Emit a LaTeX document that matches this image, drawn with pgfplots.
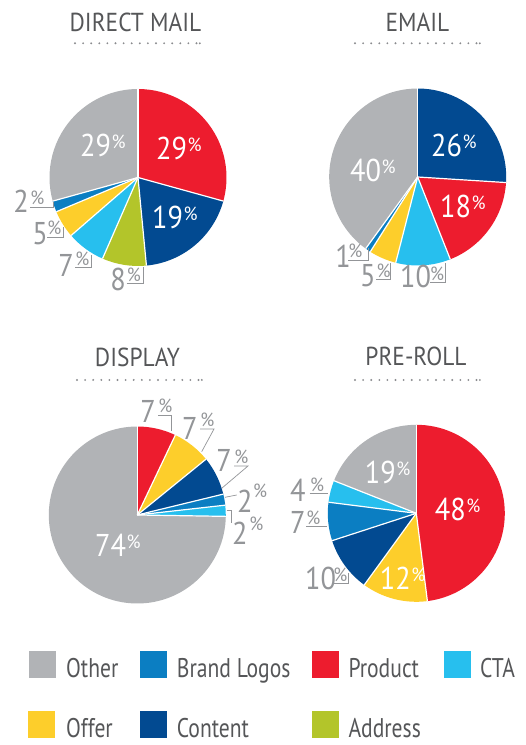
\documentclass[border=0pt]{standalone}
\usepackage{fontspec}
\setmainfont{PT Sans}[FakeStretch=0.8]
\newfontfamily\numfam{PT Sans}[FakeStretch=0.9]
\newfontfamily\pctfam{PT Sans}[FakeStretch=0.95]
\newfontfamily\titfam{PT Sans}[FakeStretch=0.9]
\usepackage{pgfplots}
\usepackage{pgfplotstable}
\pgfplotsset{compat=1.18}

\definecolor{cOther}{HTML}{B1B3B6}
\definecolor{cLogos}{HTML}{0B7EC2}
\definecolor{cProduct}{HTML}{ED1C2E}
\definecolor{cCTA}{HTML}{27BFEE}
\definecolor{cOffer}{HTML}{FDCE2B}
\definecolor{cContent}{HTML}{024A91}
\definecolor{cAddress}{HTML}{B3C52A}
\definecolor{lblgray}{HTML}{939598}
\definecolor{txtgray}{HTML}{555658}
\definecolor{dotgray}{HTML}{8A8B8E}

\pgfplotstableread{
cat val
Product 29
Content 19
Address 8
CTA 7
Offer 5
Logos 2
Other 29
}\dmdata
\pgfplotstableread{
cat val
Content 26
Product 18
CTA 10
Offer 5
Logos 1
Other 40
}\emdata
\pgfplotstableread{
cat val
Product 7
Offer 7
Content 7
Logos 2
CTA 2
Other 74
}\didata
\pgfplotstableread{
cat val
Product 48
Offer 12
Content 10
Logos 7
CTA 4
Other 19
}\prdata

\def\pierad{88.5pt}
\newcommand\drawpie[1]{%
  \pgfplotstablegetrowsof{#1}%
  \pgfmathtruncatemacro\nlast{\pgfplotsretval-1}%
  \def\tot{0}%
  \pgfplotsforeachungrouped \i in {0,...,\nlast}{%
    \pgfplotstablegetelem{\i}{val}\of{#1}%
    \pgfmathsetmacro\tot{\tot+\pgfplotsretval}%
  }%
  \def\acc{90}%
  \pgfplotsforeachungrouped \i in {0,...,\nlast}{%
    \pgfplotstablegetelem{\i}{val}\of{#1}%
    \pgfmathsetmacro\aend{\acc-\pgfplotsretval/\tot*360}%
    \pgfplotstablegetelem{\i}{cat}\of{#1}%
    \edef\col{c\pgfplotsretval}%
    \fill[\col] (axis cs:0,0) -- (axis cs:{cos(\acc)},{sin(\acc)}) arc[start angle=\acc, end angle=\aend, radius=\pierad] -- cycle;
    \let\acc\aend
  }%
  \def\acc{90}%
  \pgfplotsforeachungrouped \i in {0,...,\nlast}{%
    \draw[white, line width=1.2pt] (axis cs:0,0) -- (axis cs:{cos(\acc)},{sin(\acc)});
    \pgfplotstablegetelem{\i}{val}\of{#1}%
    \pgfmathsetmacro\aend{\acc-\pgfplotsretval/\tot*360}%
    \let\acc\aend
  }%
}

\pgfplotsset{pieaxis/.style={anchor=center, width=177pt, height=177pt, scale only axis,
  xmin=-1, xmax=1, ymin=-1, ymax=1, hide axis, clip=false}}

\newcommand\bignum{\numfam\fontsize{31.5}{30}\selectfont}
\newcommand\pcfont{\pctfam\fontsize{19}{19}\selectfont}
\newcommand\titlefont{\titfam\fontsize{26}{26}\selectfont}
\newcommand\legfont{\fontsize{27}{27}\selectfont}

% inside (white) label: x, baseline, number
\newcommand\inlbl[3]{\node[anchor=base west, inner sep=0pt, text=white] at (#1pt,#2pt) {\bignum #3\kern0.5pt\raisebox{8pt}{\pcfont\%}};}
% outside label: digit x, baseline, number, pct x, underline y
\newcommand\outlbl[5]{%
  \node[anchor=base west, inner sep=0pt, text=lblgray] at (#1pt,#2pt) {\bignum #3};
  \node[anchor=base west, inner sep=0pt, text=lblgray] at (#4pt,#5pt-2pt) {\pcfont\%};}
\newcommand\dotrow[2]{% x0, y
  \foreach \k in {0,...,15}{\fill[dotgray] (#1pt+\k*8.1pt,#2pt) circle (1.05pt);}
  \fill[dotgray] (#1pt+124.8pt,#2pt) circle (1.05pt);}

\begin{document}
\begin{tikzpicture}
\useasboundingbox (0,0) rectangle (526pt,745pt);

\begin{axis}[pieaxis, at={(138pt,567.5pt)}]
\pgfplotsextra{\drawpie{\dmdata}}
\end{axis}
\begin{axis}[pieaxis, at={(417.7pt,568pt)}]
\pgfplotsextra{\drawpie{\emdata}}
\end{axis}
\begin{axis}[pieaxis, at={(137.3pt,230pt)}]
\pgfplotsextra{\drawpie{\didata}}
\end{axis}
\begin{axis}[pieaxis, at={(416.3pt,231.7pt)}]
\pgfplotsextra{\drawpie{\prdata}}
\end{axis}

\begin{scope}[yshift=745pt, yscale=-1]
% titles
\node[anchor=base, inner sep=0pt, text=txtgray] at (135.5pt,32pt) {\titlefont DIRECT MAIL};
\node[anchor=base, inner sep=0pt, text=txtgray] at (417.5pt,32pt) {\titlefont EMAIL};
\node[anchor=base, inner sep=0pt, text=txtgray] at (137.5pt,367pt) {\titlefont DISPLAY};
\node[anchor=base, inner sep=0pt, text=txtgray] at (416pt,366pt) {\titlefont PRE-ROLL};
\dotrow{75}{43.3}
\dotrow{355}{43.3}
\dotrow{77}{380}
\dotrow{355}{380}

% inside labels
\inlbl{80}{157}{29}
\inlbl{156}{160}{29}
\inlbl{152}{229}{19}
\inlbl{431}{157}{26}
\inlbl{440}{218}{18}
\inlbl{350}{182}{40}
\inlbl{95}{556.7}{74}
\inlbl{364.7}{483.3}{19}
\inlbl{434.7}{520.7}{48}
\inlbl{379.7}{589.3}{12}

% outside labels
\begin{scope}[lblgray, line width=0.7pt]
% direct mail
\outlbl{13}{213}{2}{30}{207}
\draw (30pt,207pt) -- (53pt,207pt) -- (53pt,202pt);
\outlbl{32}{245}{5}{47}{237}
\draw (47pt,237pt) -- (63.3pt,237pt) -- (63.3pt,227pt);
\outlbl{58}{277}{7}{75}{267.3}
\draw (75pt,267.3pt) -- (91.7pt,267.3pt) -- (91.7pt,255pt);
\outlbl{110}{291}{8}{126.5}{283.3}
\draw (126.5pt,283.3pt) -- (143.3pt,283.3pt) -- (143.3pt,267.3pt);
% email
\outlbl{335}{268}{1}{348}{260}
\draw (348pt,260pt) -- (368pt,260pt) -- (368pt,248pt);
\outlbl{359.7}{287}{5}{376.3}{279.3}
\draw (376.3pt,279.3pt) -- (390.7pt,279.3pt) -- (390.7pt,263pt);
\outlbl{399.7}{288}{10}{429.7}{282.7}
\draw (429.7pt,282.7pt) -- (445.7pt,282.7pt) -- (445.7pt,263.3pt);
% display
\outlbl{140}{422.7}{7}{158}{415}
\draw (158pt,415pt) -- (171pt,415pt) -- (171pt,431pt);
\outlbl{181.7}{440}{7}{200}{429}
\draw (200pt,429pt) -- (214pt,429pt) -- (201.7pt,451.7pt);
\outlbl{216}{471.7}{7}{234}{466}
\draw (234pt,466pt) -- (248pt,466pt) -- (221.7pt,488.3pt);
\outlbl{236.7}{513}{2}{252.7}{500}
\draw (225pt,497.3pt) -- (236.7pt,495pt);
\outlbl{231.7}{545}{2}{249}{533}
\draw (226.7pt,510.7pt) -- (231.7pt,510.7pt) -- (231.7pt,523.3pt);
% pre-roll
\outlbl{289.7}{501.7}{4}{309.7}{493.3}
\draw (309.7pt,493.3pt) -- (328pt,493.3pt);
\outlbl{289.7}{533.3}{7}{306}{526.7}
\draw (306pt,526.7pt) -- (327pt,526.7pt);
\outlbl{304.7}{590}{10}{333}{583.3}
\draw (333pt,583.3pt) -- (348pt,583.3pt) -- (348pt,572.7pt);
\end{scope}

% legend
\fill[cOther] (29pt,651pt) rectangle (56pt,678pt);
\node[anchor=base west, inner sep=0pt, text=txtgray] at (66pt,678pt) {\legfont Other};
\fill[cLogos] (140pt,651pt) rectangle (166.7pt,678pt);
\node[anchor=base west, inner sep=0pt, text=txtgray] at (176.7pt,678pt) {\legfont Brand Logos};
\fill[cProduct] (311.7pt,651pt) rectangle (338.7pt,678pt);
\node[anchor=base west, inner sep=0pt, text=txtgray] at (348.3pt,678pt) {\legfont Product};
\fill[cCTA] (444.3pt,651pt) rectangle (471pt,678pt);
\node[anchor=base west, inner sep=0pt, text=txtgray] at (480pt,678pt) {\legfont CTA};
\fill[cOffer] (28.3pt,711pt) rectangle (55.3pt,738pt);
\node[anchor=base west, inner sep=0pt, text=txtgray] at (66pt,737pt) {\legfont Offer};
\fill[cContent] (140pt,711pt) rectangle (166.7pt,738pt);
\node[anchor=base west, inner sep=0pt, text=txtgray] at (176.7pt,737pt) {\legfont Content};
\fill[cAddress] (311.7pt,711pt) rectangle (338.7pt,738pt);
\node[anchor=base west, inner sep=0pt, text=txtgray] at (348.3pt,737pt) {\legfont Address};
\end{scope}
\end{tikzpicture}
\end{document}
